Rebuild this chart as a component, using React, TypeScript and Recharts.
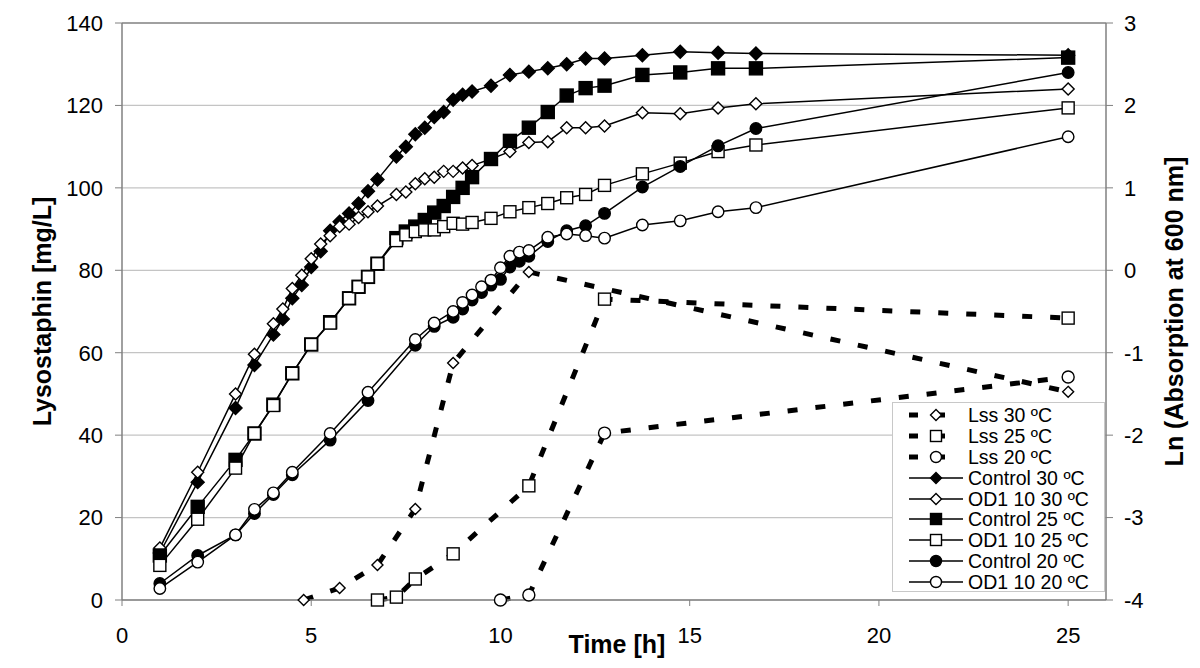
import React from 'react';
import { ComposedChart, Line, XAxis, YAxis, CartesianGrid, ReferenceLine, Label } from 'recharts';

const FONT = '"Liberation Sans", Arial, Helvetica, sans-serif';

// ---- Lysostaphin (left axis, mg/L) ----
const lss30Time = [4.8, 5.75, 6.75, 7.75, 8.75, 10.75, 25];
const lss30 = [0, 2.9, 8.5, 22.1, 57.5, 79.6, 50.5];
const lss25Time = [6.75, 7.25, 7.75, 8.75, 10.75, 12.75, 25];
const lss25 = [0, 0.7, 5.1, 11.2, 27.7, 73, 68.4];
const lss20Time = [10, 10.75, 12.75, 25];
const lss20 = [0, 1.2, 40.5, 54.1];

// ---- Growth (right axis, ln(A600)) ----
const time30 = [1, 2, 3, 3.5, 4, 4.25, 4.5, 4.75, 5, 5.25, 5.5, 5.75, 6, 6.25, 6.5, 6.75, 7.25, 7.5, 7.75, 8, 8.25, 8.5, 8.75, 9, 9.25, 9.75, 10.25, 10.75, 11.25, 11.75, 12.25, 12.75, 13.75, 14.75, 15.75, 16.75, 25];
const control30 = [-3.43, -2.57, -1.67, -1.15, -0.78, -0.59, -0.34, -0.18, 0.04, 0.23, 0.48, 0.59, 0.69, 0.81, 0.96, 1.10, 1.38, 1.50, 1.65, 1.73, 1.86, 1.92, 2.07, 2.13, 2.17, 2.24, 2.37, 2.41, 2.45, 2.50, 2.57, 2.57, 2.61, 2.65, 2.64, 2.63, 2.61];
const od30 = [-3.37, -2.45, -1.50, -1.02, -0.65, -0.47, -0.22, -0.06, 0.14, 0.32, 0.42, 0.53, 0.56, 0.64, 0.71, 0.78, 0.92, 0.95, 1.05, 1.11, 1.13, 1.20, 1.20, 1.24, 1.27, 1.35, 1.44, 1.55, 1.56, 1.73, 1.73, 1.75, 1.91, 1.90, 1.97, 2.02, 2.20];

const time25 = [1, 2, 3, 3.5, 4, 4.5, 5, 5.5, 6, 6.25, 6.5, 6.75, 7.25, 7.5, 7.75, 8, 8.25, 8.5, 8.75, 9, 9.25, 9.75, 10.25, 10.75, 11.25, 11.75, 12.25, 12.75, 13.75, 14.75, 15.75, 16.75, 25];
const control25 = [-3.46, -2.87, -2.30, -1.98, -1.63, -1.25, -0.90, -0.63, -0.34, -0.20, -0.08, 0.08, 0.39, 0.47, 0.53, 0.61, 0.70, 0.78, 0.89, 1.00, 1.13, 1.35, 1.57, 1.73, 1.92, 2.12, 2.21, 2.24, 2.37, 2.40, 2.45, 2.45, 2.58];
const od25 = [-3.58, -3.02, -2.40, -1.98, -1.64, -1.25, -0.90, -0.64, -0.34, -0.20, -0.08, 0.08, 0.36, 0.43, 0.47, 0.49, 0.49, 0.53, 0.57, 0.56, 0.58, 0.63, 0.71, 0.76, 0.81, 0.88, 0.92, 1.03, 1.17, 1.30, 1.44, 1.52, 1.97];

const time20 = [1, 2, 3, 3.5, 4, 4.5, 5.5, 6.5, 7.75, 8.25, 8.75, 9, 9.25, 9.5, 9.75, 10, 10.25, 10.5, 10.75, 11.25, 11.75, 12.25, 12.75, 13.75, 14.75, 15.75, 16.75, 25];
const control20 = [-3.80, -3.46, -3.21, -2.95, -2.72, -2.48, -2.06, -1.58, -0.91, -0.68, -0.57, -0.47, -0.36, -0.27, -0.18, -0.11, 0.04, 0.11, 0.17, 0.35, 0.48, 0.54, 0.69, 1.01, 1.26, 1.51, 1.72, 2.40];
const od20 = [-3.86, -3.54, -3.21, -2.90, -2.70, -2.45, -1.98, -1.48, -0.84, -0.64, -0.50, -0.39, -0.30, -0.20, -0.12, 0.03, 0.17, 0.22, 0.24, 0.40, 0.44, 0.42, 0.39, 0.55, 0.60, 0.71, 0.76, 1.62];

const xTicks = [0, 5, 10, 15, 20, 25];
const leftTicks = [0, 20, 40, 60, 80, 100, 120, 140];
const rightTicks = [-4, -3, -2, -1, 0, 1, 2, 3];

const legendNames = ['Lss 30 ºC', 'Lss 25 ºC', 'Lss 20 ºC', 'Control 30 ºC', 'OD1 10 30 ºC', 'Control 25 ºC', 'OD1 10 25 ºC', 'Control 20 ºC', 'OD1 10 20 ºC'];

const zip = (ts: number[], vs: number[]) => ts.map((x, i) => ({ x, y: vs[i] }));

type Shape = 'diamond' | 'square' | 'circle';

function shapeEl(shape: Shape, filled: boolean, cx: number, cy: number, size: number, key?: string) {
  const h = size / 2;
  const fill = filled ? '#000' : '#fff';
  const common = { fill, stroke: '#000', strokeWidth: 1.4 };
  if (shape === 'diamond') {
    return <path key={key} d={`M${cx},${cy - h}L${cx + h},${cy}L${cx},${cy + h}L${cx - h},${cy}Z`} {...common} />;
  }
  if (shape === 'square') {
    return <rect key={key} x={cx - h} y={cy - h} width={size} height={size} {...common} />;
  }
  return <circle key={key} cx={cx} cy={cy} r={h} {...common} />;
}

const makeDot = (shape: Shape, filled: boolean, size: number) => (p: any) => {
  const { cx, cy, index } = p;
  if (cx == null || cy == null || isNaN(cx) || isNaN(cy)) return <g key={`e${index}`} />;
  return shapeEl(shape, filled, cx, cy, size, `d${index}`);
};

const DASH = '10 18';

const series = [
  { name: legendNames[0], data: zip(lss30Time, lss30), axis: 'left', dashed: true, shape: 'diamond' as Shape, filled: false, size: 11 },
  { name: legendNames[1], data: zip(lss25Time, lss25), axis: 'left', dashed: true, shape: 'square' as Shape, filled: false, size: 12 },
  { name: legendNames[2], data: zip(lss20Time, lss20), axis: 'left', dashed: true, shape: 'circle' as Shape, filled: false, size: 12 },
  { name: legendNames[3], data: zip(time30, control30), axis: 'right', dashed: false, shape: 'diamond' as Shape, filled: true, size: 13 },
  { name: legendNames[4], data: zip(time30, od30), axis: 'right', dashed: false, shape: 'diamond' as Shape, filled: false, size: 12 },
  { name: legendNames[5], data: zip(time25, control25), axis: 'right', dashed: false, shape: 'square' as Shape, filled: true, size: 13 },
  { name: legendNames[6], data: zip(time25, od25), axis: 'right', dashed: false, shape: 'square' as Shape, filled: false, size: 12 },
  { name: legendNames[7], data: zip(time20, control20), axis: 'right', dashed: false, shape: 'circle' as Shape, filled: true, size: 11.5 },
  { name: legendNames[8], data: zip(time20, od20), axis: 'right', dashed: false, shape: 'circle' as Shape, filled: false, size: 11.5 },
];

const titleStyle = { fontFamily: FONT, fontWeight: 700, fontSize: 25, fill: '#000' } as const;

const LeftTitle = (props: any) => {
  const vb = props.viewBox || { x: 0, y: 23, width: 122, height: 577 };
  const cx = vb.x + 42;
  const cy = vb.y + vb.height / 2;
  return (
    <text x={cx} y={cy} transform={`rotate(-90 ${cx} ${cy})`} textAnchor="middle" dominantBaseline="central" style={titleStyle}>
      Lysostaphin [mg/L]
    </text>
  );
};

const RightTitle = (props: any) => {
  const vb = props.viewBox || { x: 1106, y: 23, width: 94, height: 577 };
  const cx = vb.x + 68;
  const cy = vb.y + vb.height / 2;
  return (
    <text x={cx} y={cy} transform={`rotate(-90 ${cx} ${cy})`} textAnchor="middle" dominantBaseline="central" style={titleStyle}>
      Ln (Absorption at 600 nm]
    </text>
  );
};

const BottomTitle = (props: any) => {
  const vb = props.viewBox || { x: 122, y: 600, width: 984, height: 68 };
  const cx = vb.x + vb.width / 2 + 3;
  const y = vb.y + 53;
  return (
    <text x={cx} y={y} textAnchor="middle" style={titleStyle}>
      Time [h]
    </text>
  );
};

function LegendBox() {
  return (
    <div
      style={{
        position: 'absolute',
        left: 892,
        top: 402,
        width: 213,
        height: 190,
        background: '#fff',
        border: '1px solid #c8c8c8',
        boxSizing: 'border-box',
        paddingTop: 2,
        fontFamily: FONT,
        fontSize: 19.5,
        color: '#000',
      }}
    >
      {series.map((s, i) => (
        <div key={s.name} style={{ display: 'flex', alignItems: 'center', height: 20.8, whiteSpace: 'nowrap' }}>
          <svg width={75} height={20} style={{ flex: '0 0 auto' }}>
            {s.dashed ? (
              <line x1={16} y1={10} x2={56} y2={10} stroke="#000" strokeWidth={5} strokeDasharray="9 18" />
            ) : (
              <line x1={16} y1={10} x2={70} y2={10} stroke="#000" strokeWidth={1.5} />
            )}
            {shapeEl(s.shape, s.filled, 43, 10, s.shape === 'circle' ? 11 : 11)}
          </svg>
          <span style={{ lineHeight: '20px' }}>{s.name}</span>
        </div>
      ))}
    </div>
  );
}

export default function App() {
  const tickStyle = { fill: '#000', fontSize: 22, fontFamily: FONT };
  return (
    <div style={{ position: 'absolute', left: 0, top: 0, width: 1200, height: 668, background: '#fff' }}>
      <ComposedChart width={1200} height={668} margin={{ top: 23, right: 0, bottom: 0, left: 0 }}>
        <CartesianGrid yAxisId="left" horizontal vertical={false} stroke="#c4c4c4" strokeWidth={1.2} />
        <XAxis
          type="number"
          dataKey="x"
          domain={[0, 26]}
          ticks={xTicks}
          interval={0}
          height={68}
          tickSize={6}
          tickMargin={21}
          axisLine={{ stroke: '#808080', strokeWidth: 1.5 }}
          tickLine={{ stroke: '#808080' }}
          tick={tickStyle}
        >
          <Label content={BottomTitle} />
        </XAxis>
        <YAxis
          yAxisId="left"
          orientation="left"
          width={122}
          domain={[0, 140]}
          ticks={leftTicks}
          interval={0}
          tickSize={7}
          tickMargin={12}
          axisLine={{ stroke: '#808080', strokeWidth: 1.5 }}
          tickLine={{ stroke: '#808080' }}
          tick={tickStyle}
        >
          <Label content={LeftTitle} />
        </YAxis>
        <YAxis
          yAxisId="right"
          orientation="right"
          width={94}
          domain={[-4, 3]}
          ticks={rightTicks}
          interval={0}
          tickSize={7}
          tickMargin={11}
          axisLine={{ stroke: '#808080', strokeWidth: 1.5 }}
          tickLine={{ stroke: '#808080' }}
          tick={tickStyle}
        >
          <Label content={RightTitle} />
        </YAxis>
        <ReferenceLine yAxisId="left" y={140} stroke="#8a8a8a" strokeWidth={1.5} />
        {series.map((s) => (
          <Line
            key={s.name}
            name={s.name}
            data={s.data}
            dataKey="y"
            yAxisId={s.axis}
            type="linear"
            stroke="#000"
            strokeWidth={s.dashed ? 5 : 1.5}
            strokeDasharray={s.dashed ? DASH : undefined}
            dot={makeDot(s.shape, s.filled, s.size)}
            activeDot={false}
            isAnimationActive={false}
            legendType="none"
          />
        ))}
      </ComposedChart>
      <LegendBox />
    </div>
  );
}
